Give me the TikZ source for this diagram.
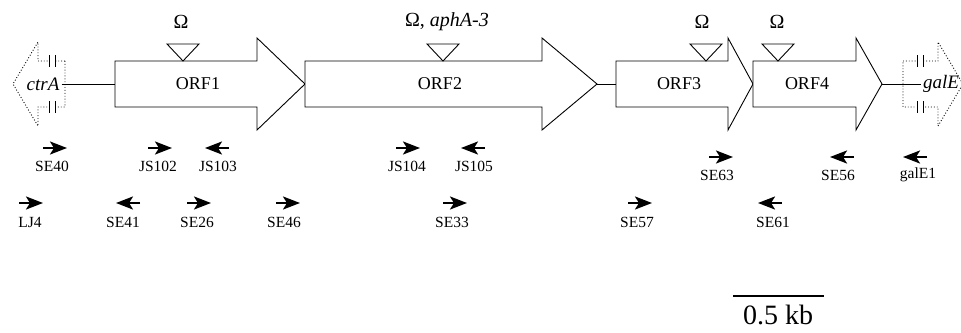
\documentclass[tikz,border=0pt]{standalone}
\usepackage{fontspec}
\setmainfont{Liberation Serif}
\usepackage{tikz}
\usetikzlibrary{arrows.meta}

\tikzset{
    gene/.style={draw, line width=0.9pt, fill=white, line join=miter},
    trunc/.style={draw, dotted, line width=0.9pt},
    cutmark/.style={line width=0.9pt},
    insert/.style={draw, line width=0.9pt, fill=white},
    primer/.style={-{Stealth[length=17pt,width=13pt,inset=4pt]}, line width=2.4pt},
    plabel/.style={font=\fontsize{15.5}{18}\selectfont, inner sep=1pt},
    orflabel/.style={font=\fontsize{18}{20}\selectfont},
    inslabel/.style={font=\fontsize{20}{22}\selectfont},
    flank/.style={font=\fontsize{19}{21}\selectfont\itshape, inner sep=2pt}
}

\begin{document}
\begin{tikzpicture}[x=1pt, y=-1pt]
    	\useasboundingbox (0,0) rectangle (961,332);
    	
    	% flanking genes, only partly shown
    	\draw[trunc] (65,61) -- (38,61) -- (38,42) -- (13,84) -- (38,126) -- (38,107) -- (65,107) -- cycle;
    	\fill[white] (48,55) rectangle (56,67);
    	\fill[white] (48,101) rectangle (56,113);
    	\draw[cutmark] (49,55) -- (49,67);
    	\draw[cutmark] (55,55) -- (55,67);
    	\draw[cutmark] (49,101) -- (49,113);
    	\draw[cutmark] (55,101) -- (55,113);
    	
    	\draw[trunc] (903,61) -- (938,61) -- (938,42) -- (963,84) -- (938,126) -- (938,107) -- (903,107) -- cycle;
    	\fill[white] (916,55) rectangle (924,67);
    	\fill[white] (916,101) rectangle (924,113);
    	\draw[cutmark] (917,55) -- (917,67);
    	\draw[cutmark] (923,55) -- (923,67);
    	\draw[cutmark] (917,101) -- (917,113);
    	\draw[cutmark] (923,101) -- (923,113);
    	
    	\node (ctr)[flank] at (43,84) {ctrA};
    	\node (gal)[flank] at (941,84) {galE};
    	
    	% open reading frames
    	\draw[gene] (115,61) -- (257,61) -- (257,38) -- (305,84) -- (257,130) -- (257,107) -- (115,107) -- cycle;
    	\draw[gene] (305,61) -- (542,61) -- (542,38) -- (597,84) -- (542,130) -- (542,107) -- (305,107) -- cycle;
    	\draw[gene] (616,61) -- (728,61) -- (728,38) -- (753,84) -- (728,130) -- (728,107) -- (616,107) -- cycle;
    	\draw[gene] (753,61) -- (856,61) -- (856,38) -- (882,84) -- (856,130) -- (856,107) -- (753,107) -- cycle;
    	
    	\coordinate (o1w) at (115,84);
    	\coordinate (o2e) at (597,84);
    	\coordinate (o3w) at (616,84);
    	\coordinate (o4e) at (882,84);
    	
    	\node (orf1)[orflabel] at (198,84) {ORF1};
    	\node (orf2)[orflabel] at (440,84) {ORF2};
    	\node (orf3)[orflabel] at (679,84) {ORF3};
    	\node (orf4)[orflabel] at (807,84) {ORF4};
    	
    	\draw[line width=0.9pt] (ctr.east) -- (o1w);
    	\draw[line width=0.9pt] (o2e) -- (o3w);
    	\draw[line width=0.9pt] (o4e) -- (gal.west);
    	
    	% insertions
    	\draw[insert] (167,44) -- (199,44) -- (183,61) -- cycle;
    	\draw[insert] (427,44) -- (459,44) -- (443,61) -- cycle;
    	\draw[insert] (690,44) -- (722,44) -- (706,61) -- cycle;
    	\draw[insert] (762,44) -- (794,44) -- (778,61) -- cycle;
    	
    	\node (om1)[inslabel] at (181,22) {Ω};
    	\node (om2)[inslabel] at (447,22) {Ω, \textit{aphA-3}};
    	\node (om3)[inslabel] at (702,22) {Ω};
    	\node (om4)[inslabel] at (777,22) {Ω};
    	
    	% primers
    	\draw[primer] (43,148) -- (67,148);
    	\draw[primer] (148,148) -- (172,148);
    	\draw[primer] (229,148) -- (205,148);
    	\draw[primer] (396,148) -- (420,148);
    	\draw[primer] (485,148) -- (461,148);
    	\draw[primer] (709,157) -- (733,157);
    	\draw[primer] (854,157) -- (830,157);
    	\draw[primer] (927,157) -- (903,157);
    	\draw[primer] (19,203) -- (43,203);
    	\draw[primer] (140,203) -- (116,203);
    	\draw[primer] (187,203) -- (211,203);
    	\draw[primer] (276,203) -- (300,203);
    	\draw[primer] (443,203) -- (467,203);
    	\draw[primer] (628,203) -- (652,203);
    	\draw[primer] (782,203) -- (758,203);
    	
    	\node (se40)[plabel] at (52,166) {SE40};
    	\node (js102)[plabel] at (158,166) {JS102};
    	\node (js103)[plabel] at (218,166) {JS103};
    	\node (js104)[plabel] at (407,166) {JS104};
    	\node (js105)[plabel] at (474,166) {JS105};
    	\node (se63)[plabel] at (717,175) {SE63};
    	\node (se56)[plabel] at (838,175) {SE56};
    	\node (gale1)[plabel] at (918,175) {galE1};
    	\node (lj4)[plabel] at (30,222) {LJ4};
    	\node (se41)[plabel] at (123,222) {SE41};
    	\node (se26)[plabel] at (197,222) {SE26};
    	\node (se46)[plabel] at (284,222) {SE46};
    	\node (se33)[plabel] at (452,222) {SE33};
    	\node (se57)[plabel] at (637,222) {SE57};
    	\node (se61)[plabel] at (773,222) {SE61};
    	
    	% scale
    	\coordinate (bl) at (733,296);
    	\coordinate (br) at (824,296);
    	\draw[line width=1.5pt] (bl) -- (br);
    	\node (kb)[font=\fontsize{28}{30}\selectfont] at (778,315) {0.5 kb};
\end{tikzpicture}
\end{document}
